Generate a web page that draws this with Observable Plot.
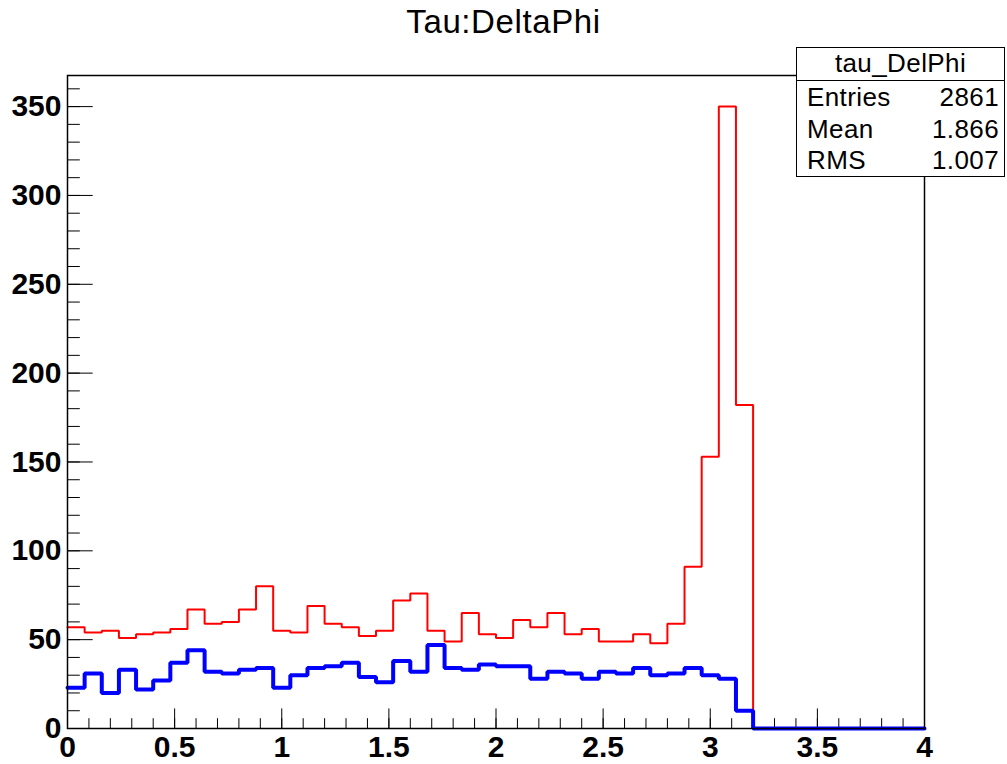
<!DOCTYPE html>
<html>
<head>
<meta charset="utf-8">
<script src="https://cdn.jsdelivr.net/npm/d3@7"></script>
<script src="https://cdn.jsdelivr.net/npm/@observablehq/plot@0.6"></script>
<style>
  html, body { margin: 0; padding: 0; background: #fff; }
  #wrap { position: relative; width: 1007px; height: 764px; font-family: "Liberation Sans", Arial, Helvetica, sans-serif; }
  #title { position: absolute; left: 0; width: 1007px; top: 3px; text-align: center; font-size: 33px; letter-spacing: 0.6px; line-height: 38px; color: #000; }
  #stats { position: absolute; left: 796px; top: 47px; width: 209px; height: 130px; border: 1.5px solid #000; background: #fff; box-sizing: border-box; font-size: 26px; letter-spacing: 0.4px; color: #000; }
  #stats .head { height: 32px; line-height: 30px; text-align: center; border-bottom: 1.5px solid #000; }
  #stats .row { height: 31.5px; line-height: 32px; display: flex; justify-content: space-between; padding: 0 5px 0 10px; }
  svg { position: absolute; left: 0; top: 0; }
</style>
</head>
<body>
<div id="wrap">
  <div id="chart"></div>
  <div id="title"></div>
  <div id="stats"></div>
</div>
<script>
// ---- data ----
const chartTitle = "Tau:DeltaPhi";
const histName = "tau_DelPhi";
const statLabels = ["Entries", "Mean", "RMS"];
const statValues = ["2861", "1.866", "1.007"];
const xMin = 0, xMax = 4, nBins = 50;
const redCounts = [57,54,55,51,53,54,56,67,59,60, 67,80,55,54,69,59,57,52,55,72,
                   76,55,49,65,53,51,61,57,65,53, 56,49,49,53,48,59,91,153,350,182,
                   0,0,0,0,0,0,0,0,0,0];
const blueCounts = [23,31,20,33,22,27,37,44,32,31, 33,34,23,30,34,35,37,29,26,38,
                    32,47,34,33,36,35,35,28,32,31, 28,32,31,34,30,31,34,30,28,10,
                    0,0,0,0,0,0,0,0,0,0];
const xMajorTicks = [0, 0.5, 1, 1.5, 2, 2.5, 3, 3.5, 4];
const xTickLabels = ["0", "0.5", "1", "1.5", "2", "2.5", "3", "3.5", "4"];
const xMinorTicks = d3.range(0, 41).map(i => i / 10);
const yMajorTicks = [0, 50, 100, 150, 200, 250, 300, 350];
const yMinorTicks = d3.range(0, 37).map(i => i * 10);
const yMax = 367.5;

// ---- build step tables ----
const binW = (xMax - xMin) / nBins;
function steps(counts) {
  const rows = counts.map((c, i) => ({x: xMin + i * binW, y: c}));
  rows.push({x: xMax, y: counts[counts.length - 1]});
  return rows;
}
const redRows = steps(redCounts);
const blueRows = steps(blueCounts);

const font = {fontSize: 30, fontWeight: "bold", fill: "#000", label: null};

const plot = Plot.plot({
  width: 1007,
  height: 764,
  marginLeft: 67,
  marginRight: 83,
  marginTop: 75,
  marginBottom: 36,
  style: {fontFamily: "'Liberation Sans', Arial, Helvetica, sans-serif", background: "transparent", overflow: "visible"},
  x: {domain: [xMin, xMax], label: null},
  y: {domain: [0, yMax], label: null},
  marks: [
    Plot.axisX(xMinorTicks, {anchor: "bottom", tickSize: -9.8, fill: "none", stroke: "#000", label: null}),
    Plot.axisX(xMajorTicks, {anchor: "bottom", tickSize: -19.6, fill: "none", stroke: "#000", label: null}),
    Plot.axisX(xMajorTicks, {anchor: "bottom", tickSize: 0, tickPadding: 7, stroke: "none",
      tickFormat: d => xTickLabels[xMajorTicks.indexOf(d)], ...font}),
    Plot.axisY(yMinorTicks, {anchor: "left", tickSize: -12.8, fill: "none", stroke: "#000", label: null}),
    Plot.axisY(yMajorTicks, {anchor: "left", tickSize: 0 - 25.7, fill: "none", stroke: "#000", label: null}),
    Plot.axisY(yMajorTicks, {anchor: "left", tickSize: 0, tickPadding: 6, stroke: "none",
      tickFormat: d => String(d), ...font}),
    Plot.line(redRows, {x: "x", y: "y", curve: "step-after", stroke: "#ff0000", strokeWidth: 2, strokeLinejoin: "miter"}),
    Plot.line(blueRows, {x: "x", y: "y", curve: "step-after", stroke: "#0000ff", strokeWidth: 4, strokeLinejoin: "miter"}),
    Plot.frame({stroke: "#000", strokeWidth: 1.5})
  ]
});
document.getElementById("chart").appendChild(plot);

document.getElementById("title").textContent = chartTitle;
const stats = document.getElementById("stats");
const head = document.createElement("div");
head.className = "head";
head.textContent = histName;
stats.appendChild(head);
statLabels.forEach((lab, i) => {
  const r = document.createElement("div");
  r.className = "row";
  const a = document.createElement("span"); a.textContent = lab;
  const b = document.createElement("span"); b.textContent = statValues[i];
  r.appendChild(a); r.appendChild(b);
  stats.appendChild(r);
});
</script>
</body>
</html>
